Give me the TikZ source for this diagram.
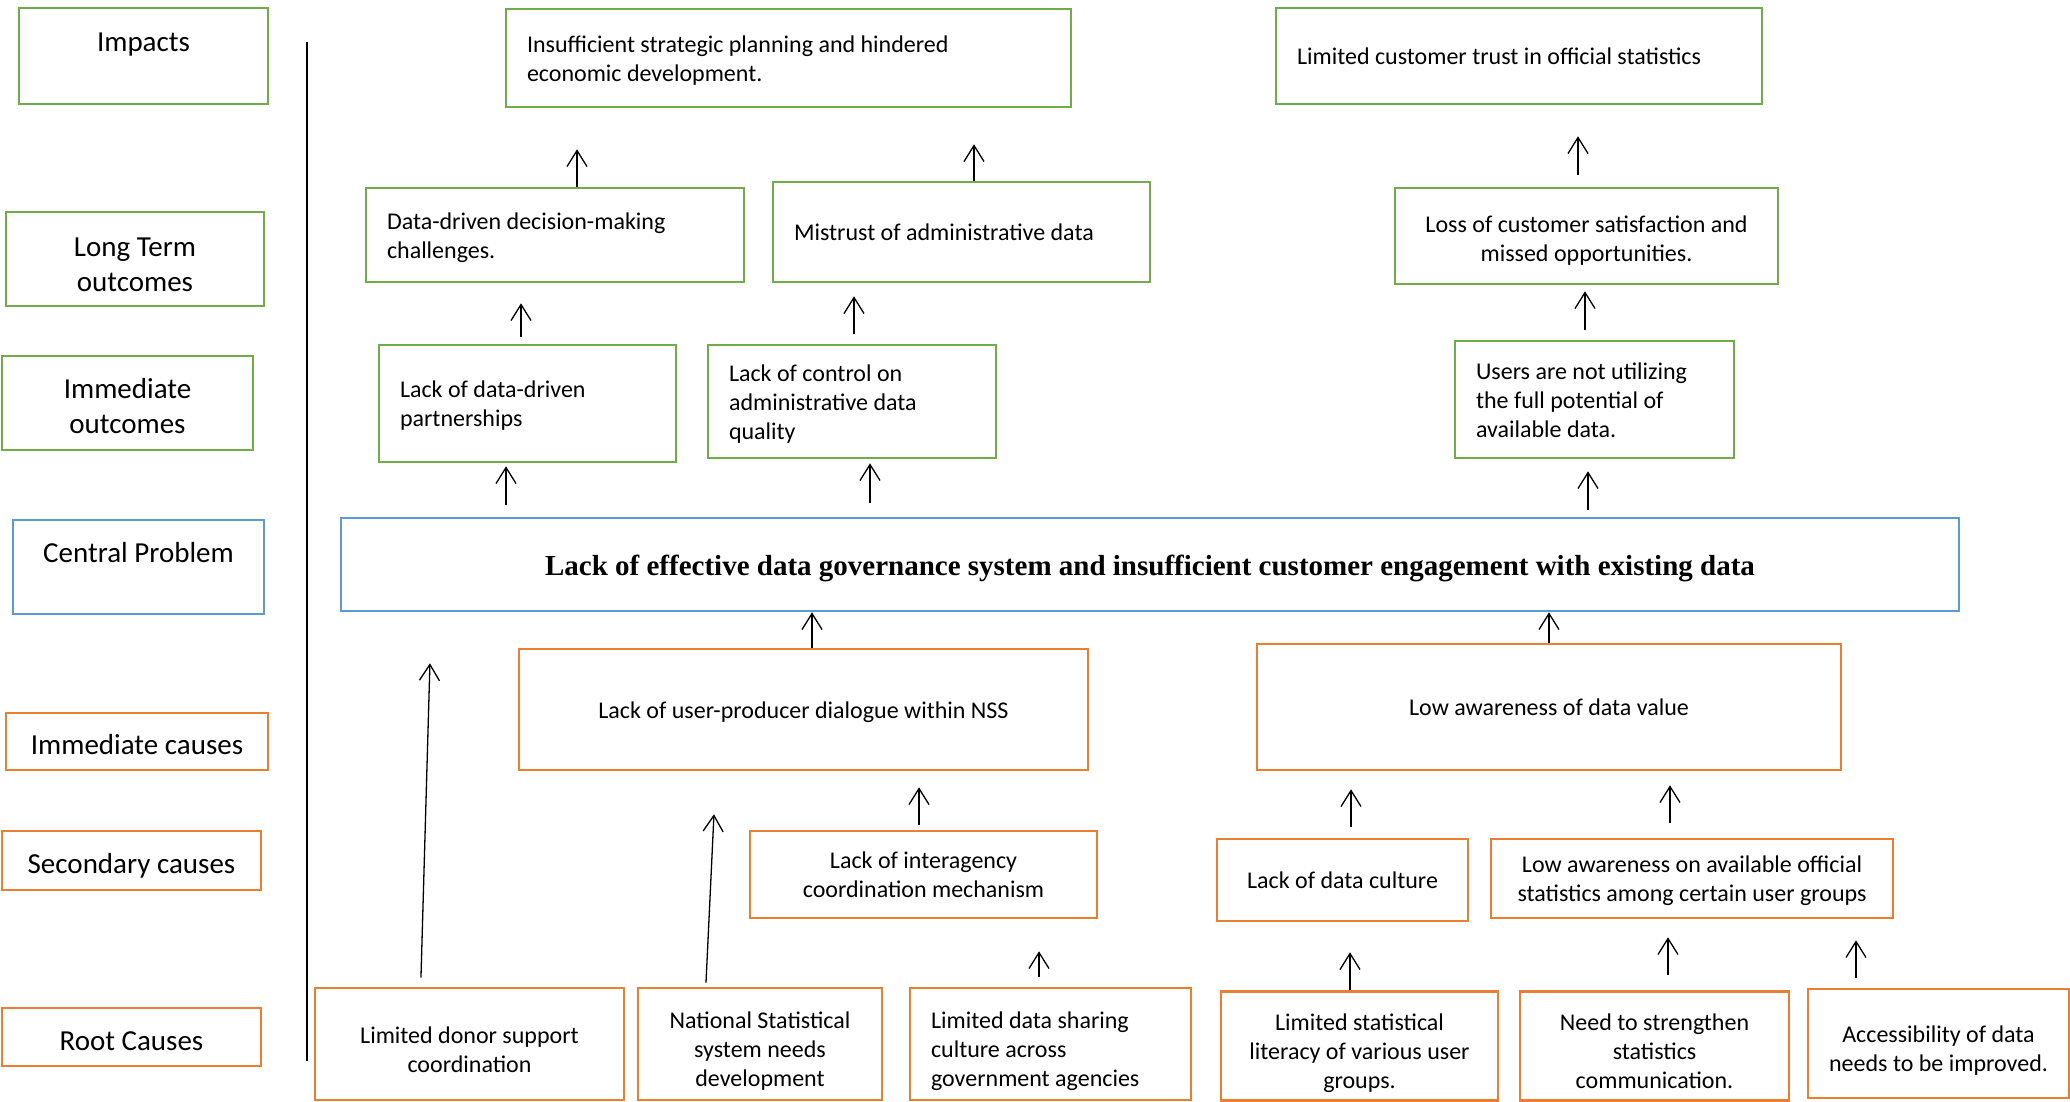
\documentclass[tikz,border=0pt]{standalone}
\usepackage{fontspec}
\setmainfont{Carlito}
\newfontfamily\probfont{Liberation Serif}
\usepackage{tikz}
\usetikzlibrary{arrows.meta}
\definecolor{outgreen}{RGB}{112,173,71}
\definecolor{probblue}{RGB}{91,155,213}
\definecolor{causeorange}{RGB}{237,125,49}

\begin{document}
\begin{tikzpicture}[
    x=1pt, y=-1pt,
    textdrop/.style={execute at begin node={\rule{0pt}{#1}}},
    box/.style={draw,line width=2.6pt,font=\fontsize{24}{29}\selectfont,
      textdrop=26pt,execute at end node=\strut},
    lbox/.style={box,align=flush left,inner xsep=21pt},
    cbox/.style={box,align=flush center,inner xsep=10pt},
    lab/.style={cbox,font=\fontsize{29}{35.5}\selectfont,textdrop=37pt},
    root/.style={cause,textdrop=36pt},
    outcome/.style={draw=outgreen},
    problem/.style={draw=probblue},
    cause/.style={draw=causeorange},
    arr/.style={->,line width=1.3pt},
    >={Straight Barb[length=16pt,width=20pt]}
]
\useasboundingbox (0,0) rectangle (2070,1102);

\node[lab,outcome,textdrop=18pt,text width=229pt,minimum height=96pt] (lImp) at (143.5,56) {Impacts\\\mbox{}};
\node[lab,outcome,textdrop=41pt,text width=238pt,minimum height=94pt] (lLong) at (135,259) {Long Term\\outcomes};
\node[lab,outcome,textdrop=37pt,text width=231pt,minimum height=94pt] (lImmOut) at (127.5,403) {Immediate\\outcomes};
\node[lab,problem,textdrop=36pt,text width=231pt,minimum height=94pt] (lCentral) at (138.5,567) {Central Problem\\\mbox{}};
\node[lab,cause,text width=242pt,minimum height=57pt] (lImmCause) at (137,741.5) {Immediate causes};
\node[lab,cause,text width=239pt,minimum height=59pt] (lSecCause) at (131.5,860.5) {Secondary causes};
\node[lab,cause,text width=239pt,minimum height=58pt] (lRoot) at (131.5,1037) {Root Causes};
\draw[line width=2pt] (307,42) -- (307,1061);

\node[lbox,outcome,text width=523pt,minimum height=98pt] (ins) at (788.5,58) {Insufficient strategic planning and hindered\\economic development.};
\node[lbox,outcome,text width=444pt,minimum height=96pt] (trust) at (1519,56) {Limited customer trust in official statistics};
\node[lbox,outcome,text width=336pt,minimum height=94pt] (dd) at (555,235) {Data-driven decision-making\\challenges.};
\node[lbox,outcome,text width=335pt,minimum height=100pt] (mis) at (961.5,232) {Mistrust of administrative data};
\node[cbox,outcome,textdrop=30pt,text width=363pt,minimum height=96pt] (loss) at (1586.5,236) {Loss of customer satisfaction and\\missed opportunities.};
\node[lbox,outcome,text width=255pt,minimum height=117pt] (ldp) at (527.5,403.5) {Lack of data-driven\\partnerships};
\node[lbox,outcome,text width=246pt,minimum height=113pt] (lcq) at (852,401.5) {Lack of control on\\administrative data\\quality};
\node[lbox,outcome,text width=237pt,minimum height=117pt] (users) at (1594.5,399.5) {Users are not utilizing\\the full potential of\\available data.};

\node[cbox,problem,text width=1598pt,minimum height=93pt,font=\probfont\fontsize{29}{35}\selectfont\bfseries,textdrop=32pt] (central) at (1150,564.5) {Lack of effective data governance system and insufficient customer engagement with existing data};

\node[cbox,cause,text width=549pt,minimum height=121pt] (upd) at (803.5,709.5) {Lack of user-producer dialogue within NSS};
\node[cbox,cause,text width=564pt,minimum height=126pt] (ladv) at (1549,707) {Low awareness of data value};
\node[cbox,cause,text width=327pt,minimum height=87pt] (inter) at (923.5,874.5) {Lack of interagency\\coordination mechanism};
\node[cbox,cause,text width=231pt,minimum height=82pt] (ldc) at (1342.5,880) {Lack of data culture};
\node[cbox,cause,text width=382pt,minimum height=79pt] (laoa) at (1692,878.5) {Low awareness on available official\\statistics among certain user groups};
\node[cbox,root,text width=289pt,minimum height=112pt] (donor) at (469.5,1044) {Limited donor support\\coordination};
\node[cbox,root,text width=224pt,minimum height=112pt] (nss) at (760,1044) {National Statistical\\system needs\\development};
\node[lbox,root,text width=239pt,minimum height=112pt] (share) at (1050.5,1044) {Limited data sharing\\culture across\\government agencies};
\node[cbox,root,text width=257pt,minimum height=108pt] (lsl) at (1359.5,1046) {Limited statistical\\literacy of various user\\groups.};
\node[cbox,root,text width=249pt,minimum height=108pt] (nts) at (1654.5,1046) {Need to strengthen\\statistics\\communication.};
\node[cbox,root,text width=241pt,minimum height=109pt] (acc) at (1938.5,1043.5) {Accessibility of data\\needs to be improved.};

\draw[arr,shorten >=41pt] ([xshift=22pt]dd.north) -- ([xshift=22pt]dd.north |- ins.south);
\draw[arr,shorten >=36pt] ([xshift=12.5pt]mis.north) -- ([xshift=12.5pt]mis.north |- ins.south);
\draw[arr,shorten <=7pt,shorten >=20pt] ([xshift=-6.5pt]ldp.north) -- ([xshift=-6.5pt]ldp.north |- dd.south);
\draw[arr,shorten <=10pt,shorten >=13pt] ([xshift=2pt]lcq.north) -- ([xshift=2pt]lcq.north |- mis.south);
\draw[arr,shorten <=12pt,shorten >=31pt] ([xshift=-8.5pt]loss.north) -- ([xshift=-8.5pt]loss.north |- trust.south);
\draw[arr,shorten <=10pt,shorten >=6pt] ([xshift=-9.5pt]users.north) -- ([xshift=-9.5pt]users.north |- loss.south);
\draw[arr,shorten <=12pt,shorten >=3pt] ([xshift=-644pt]central.north) -- ([xshift=-644pt]central.north |- ldp.south);
\draw[arr,shorten <=14pt,shorten >=4pt] ([xshift=-280pt]central.north) -- ([xshift=-280pt]central.north |- lcq.south);
\draw[arr,shorten <=7pt,shorten >=12pt] ([xshift=438pt]central.north) -- ([xshift=438pt]central.north |- users.south);
\draw[arr] ([xshift=8.5pt]upd.north) -- ([xshift=8.5pt]upd.north |- central.south);
\draw[arr] (ladv.north) -- (ladv.north |- central.south);
\draw[arr,shorten <=9pt,shorten >=51pt] ([xshift=-48.8pt]donor.north) -- ([xshift=-718.6pt]central.south);
\draw[arr,shorten <=4pt,shorten >=43pt] ([xshift=-54.2pt]nss.north) -- ([xshift=-87.5pt]upd.south);
\draw[arr,shorten <=5pt,shorten >=16pt] ([xshift=-4.5pt]inter.north) -- ([xshift=-4.5pt]inter.north |- upd.south);
\draw[arr,shorten <=10pt,shorten >=32pt] ([xshift=-11.5pt]share.north) -- ([xshift=-11.5pt]share.north |- inter.south);
\draw[arr,shorten <=11pt,shorten >=18pt] ([xshift=8.5pt]ldc.north) -- ([xshift=8.5pt]ldc.north |- ladv.south);
\draw[arr,shorten <=15pt,shorten >=14pt] ([xshift=-22pt]laoa.north) -- ([xshift=-22pt]laoa.north |- ladv.south);
\draw[arr,shorten >=30pt] ([xshift=-9.5pt]lsl.north) -- ([xshift=-9.5pt]lsl.north |- ldc.south);
\draw[arr,shorten <=15pt,shorten >=18pt] ([xshift=13.5pt]nts.north) -- ([xshift=13.5pt]nts.north |- laoa.south);
\draw[arr,shorten <=10pt,shorten >=21pt] ([xshift=-82.5pt]acc.north) -- ([xshift=-82.5pt]acc.north |- laoa.south);
\end{tikzpicture}
\end{document}
